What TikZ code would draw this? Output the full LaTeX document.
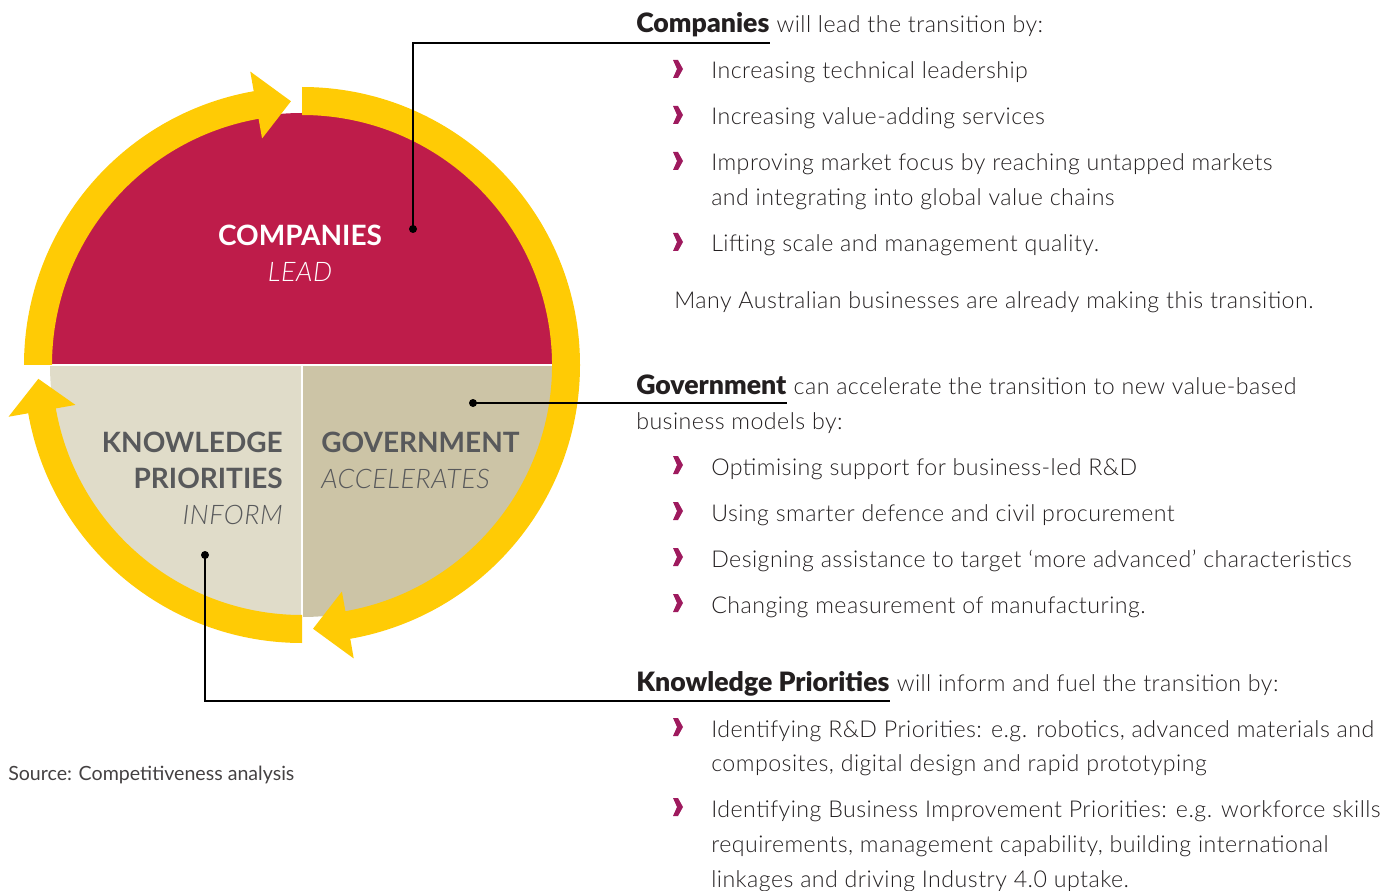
\documentclass[tikz,border=0pt]{standalone}
\usepackage{fontspec}
\setmainfont{Lato Light}[LetterSpace=2, BoldFont={Lato Black}, BoldFeatures={LetterSpace=0}]
\newfontfamily\labelfont{Lato}
\usetikzlibrary{calc}

\definecolor{compred}{HTML}{BE1C4A}
\definecolor{ringyellow}{HTML}{FFCB05}
\definecolor{knowbeige}{HTML}{E0DCC9}
\definecolor{govbeige}{HTML}{CCC4A6}
\definecolor{labelgray}{HTML}{58595B}
\definecolor{chevcol}{HTML}{9E1A5E}
\definecolor{bodytext}{HTML}{231F20}

\begin{document}
\begin{tikzpicture}[x=0.75pt, y=0.75pt,
    body/.style={anchor=base west, inner sep=0pt, text=bodytext, font=\fontsize{17.4}{20}\selectfont},
    head/.style={body, font=\fontsize{20}{24}\selectfont\bfseries},
    big/.style={inner sep=0pt, font=\labelfont\fontsize{21}{25}\selectfont\bfseries},
    bigit/.style={inner sep=0pt, font=\fontsize{20.2}{25}\selectfont\itshape},
    dot/.style={circle, fill=black, inner sep=0pt, minimum size=6pt},
    leader/.style={line width=1.5pt},
    chev/.pic={\fill[chevcol] (-5,9) -- (0,9) -- (5,0) -- (0,-9) -- (-5,-9) -- (-1,0) -- cycle;}]
  \useasboundingbox (0,0) rectangle (1400,-891);

  % circle and ring
  \begin{scope}[shift={(302,-365)}]
    \fill[compred] (0:252) arc[start angle=0, end angle=180, radius=252] -- cycle;
    \fill[knowbeige] (0,0) -- (180:252) arc[start angle=180, end angle=270, radius=252] -- cycle;
    \fill[govbeige] (0,0) -- (270:252) arc[start angle=270, end angle=360, radius=252] -- cycle;
    \draw[white, line width=1.2pt] (-252,0) -- (252,0);
    \draw[white, line width=1.2pt] (0,0) -- (0,-252);
    \fill[ringyellow] (180:278) arc[start angle=180, end angle=100, radius=278] -- (100:298) -- (92.4:264)
      -- (100:230) -- (100:250) arc[start angle=100, end angle=180, radius=250] -- cycle;
    \fill[ringyellow] (90:278) arc[start angle=90, end angle=-80, radius=278] -- (-80:298) -- (-87.6:264)
      -- (-80:230) -- (-80:250) arc[start angle=-80, end angle=90, radius=250] -- cycle;
    \fill[ringyellow] (270:278) arc[start angle=270, end angle=190, radius=278] -- (190:298) -- (183:264)
      -- (190:230) -- (190:250) arc[start angle=190, end angle=270, radius=250] -- cycle;
  \end{scope}

  % labels in the circle
  \node[big, text=white, anchor=base] (complab) at (300,-246) {COMPANIES};
  \node[bigit, text=white, anchor=base] (leadlab) at (300,-282) {LEAD};
  \node[big, text=labelgray, anchor=base east] (knowlab) at (283,-452) {KNOWLEDGE};
  \node[big, text=labelgray, anchor=base east] (priolab) at (283,-488) {PRIORITIES};
  \node[bigit, text=labelgray, anchor=base east] (informlab) at (283,-524) {INFORM};
  \node[big, text=labelgray, anchor=base west] (govlab) at (321,-452) {GOVERNMENT};
  \node[bigit, text=labelgray, anchor=base west] (accellab) at (321,-488) {ACCELERATES};

  \node[dot] (cdot) at (413,-229) {};
  \node[dot] (gdot) at (473,-403) {};
  \node[dot] (kdot) at (205,-555) {};

  % companies
  \node[head] (comp) at (636,-33) {Companies};
  \node[body] (comptail) at (comp.base east) {\ will lead the transition by:};
  \pic at (678,-69) {chev};
  \node[body] (c1) at (711,-79) {Increasing technical leadership};
  \pic at (678,-115) {chev};
  \node[body] (c2) at (711,-125) {Increasing value-adding services};
  \pic at (678,-161) {chev};
  \node[body] (c3) at (711,-171) {Improving market focus by reaching untapped markets};
  \node[body] (c3b) at (711,-206) {and integrating into global value chains};
  \pic at (678,-242) {chev};
  \node[body] (c4) at (711,-252) {Lifting scale and management quality.};
  \node[body] (cnote) at (674,-309) {Many Australian businesses are already making this transition.};

  % government
  \node[head] (gov) at (636,-394) {Government};
  \node[body] (govtail) at (gov.base east) {\ can accelerate the transition to new value-based};
  \node[body] (govtail2) at (636,-429) {business models by:};
  \pic at (678,-465) {chev};
  \node[body] (g1) at (711,-475) {Optimising support for business-led R\&D};
  \pic at (678,-511) {chev};
  \node[body] (g2) at (711,-521) {Using smarter defence and civil procurement};
  \pic at (678,-557) {chev};
  \node[body] (g3) at (711,-567) {Designing assistance to target ‘more advanced’ characteristics};
  \pic at (678,-603) {chev};
  \node[body] (g4) at (711,-613) {Changing measurement of manufacturing.};

  % knowledge priorities
  \node[head] (know) at (636,-691) {Knowledge Priorities};
  \node[body] (knowtail) at (know.base east) {\ will inform and fuel the transition by:};
  \pic at (678,-727) {chev};
  \node[body] (k1) at (711,-737) {Identifying R\&D Priorities: e.g. robotics, advanced materials and};
  \node[body] (k1b) at (711,-771) {composites, digital design and rapid prototyping};
  \pic at (678,-807) {chev};
  \node[body] (k2) at (711,-817) {Identifying Business Improvement Priorities: e.g. workforce skills};
  \node[body] (k2b) at (711,-852) {requirements, management capability, building international};
  \node[body] (k2c) at (711,-887) {linkages and driving Industry 4.0 uptake.};

  \node[body, font=\labelfont\fontsize{14.7}{17}\selectfont, text=bodytext!85] (source) at (8,-780) {Source: Competitiveness analysis};

  % leader lines
  \draw[leader] (cdot.center) |- ($(comp.base east)+(0,-10)$);
  \draw[leader] (gdot.center) -- (gdot.center -| gov.east);
  \draw[leader] (kdot.center) |- ($(know.base east)+(0,-10)$);
\end{tikzpicture}
\end{document}
